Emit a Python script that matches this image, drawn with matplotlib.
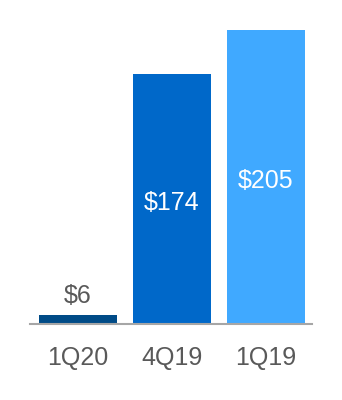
import matplotlib
matplotlib.use("Agg")
import matplotlib.pyplot as plt

quarters = ["1Q20", "4Q19", "1Q19"]
values = [6, 174, 205]
labels = ["$6", "$174", "$205"]
colors = ["#004B87", "#0068C9", "#40A9FF"]

TEXT_GRAY = "#595959"

fig = plt.figure(figsize=(3.42, 4.0), dpi=100)
ax = fig.add_axes([30 / 342, 0.19, 282 / 342, 0.735])

x = list(range(len(quarters)))
bars = ax.bar(x, values, width=0.83, color=colors)

ax.set_xlim(-0.511, 2.489)
ax.set_ylim(0, 205)

for xi, v, lbl in zip(x, values, labels):
    if v < 30:
        ax.annotate(lbl, (xi, v), xytext=(0, 5), textcoords="offset points",
                    ha="center", va="bottom", fontsize=18, color=TEXT_GRAY,
                    family="Liberation Sans")
    else:
        ax.annotate(lbl, (xi, v / 2), xytext=(0, -3), textcoords="offset points",
                    ha="center", va="center", fontsize=18, color="white",
                    family="Liberation Sans")

ax.set_xticks(x)
ax.set_xticklabels(quarters, fontsize=18, color=TEXT_GRAY, family="Liberation Sans")
ax.tick_params(axis="x", length=0, pad=16)
ax.set_yticks([])
for side in ("top", "left", "right"):
    ax.spines[side].set_visible(False)
ax.spines["bottom"].set_color("#A6A6A6")
ax.spines["bottom"].set_linewidth(1.5)

fig.savefig("out.png", dpi=100)
